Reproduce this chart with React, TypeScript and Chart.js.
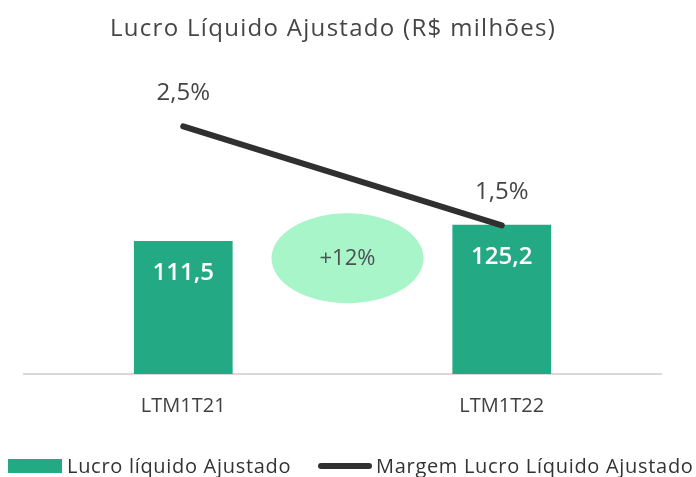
import React, { useEffect, useRef } from "react";
import { Chart, registerables } from "chart.js";

Chart.register(...registerables);

const TITLE = "Lucro Líquido Ajustado (R$ milhões)";
const categories = ["LTM1T21", "LTM1T22"];
const lucroValues = [111.5, 125.2];
const margemValues = [2.5, 1.5];
const seriesNames = ["Lucro líquido Ajustado", "Margem Lucro Líquido Ajustado"];
const growthLabel = "+12%";
const growthLevel = 97; // position of the growth bubble on the value axis

const FONT = "'Open Sans', sans-serif";
const BAR_COLOR = "#23a983";
const LINE_COLOR = "#303030";
const TEXT_COLOR = "#454545";

const fmt = (v: number, d = 1) => v.toFixed(d).replace(".", ",");

const labelsPlugin = {
  id: "customLabels",
  afterDatasetsDraw(chart: any) {
    const ctx = chart.ctx;
    const x = chart.scales.x;
    const y = chart.scales.y;
    ctx.save();
    ctx.textBaseline = "alphabetic";
    ctx.textAlign = "center";

    // title
    ctx.fillStyle = TEXT_COLOR;
    ctx.font = `500 24px ${FONT}`;
    (ctx as any).letterSpacing = "1.3px";
    ctx.fillText(TITLE, 333, 36);
    (ctx as any).letterSpacing = "0px";

    // growth bubble
    const cx = (x.getPixelForValue(0) + x.getPixelForValue(1)) / 2 + 5;
    const cy = y.getPixelForValue(growthLevel);
    ctx.beginPath();
    ctx.ellipse(cx, cy, 76, 45, 0, 0, Math.PI * 2);
    ctx.fillStyle = "#a7f5c9";
    ctx.fill();
    ctx.fillStyle = "#505050";
    ctx.font = `22px ${FONT}`;
    ctx.fillText(growthLabel, cx, cy + 7);

    // bar labels
    const barMeta = chart.getDatasetMeta(0);
    ctx.font = `600 24px ${FONT}`;
    ctx.fillStyle = "#ffffff";
    barMeta.data.forEach((el: any, i: number) => {
      ctx.fillText(fmt(lucroValues[i]), el.x, el.y + 39);
    });
    // line labels
    const lineMeta = chart.getDatasetMeta(1);
    ctx.font = `500 24px ${FONT}`;
    ctx.fillStyle = TEXT_COLOR;
    lineMeta.data.forEach((el: any, i: number) => {
      ctx.fillText(fmt(margemValues[i]) + "%", el.x, el.y - 26);
    });

    // legend
    const ly = 473;
    ctx.font = `20px ${FONT}`;
    ctx.textAlign = "left";
    (ctx as any).letterSpacing = "0.7px";
    ctx.fillStyle = BAR_COLOR;
    ctx.fillRect(8, 459, 54, 14);
    ctx.fillStyle = "#333333";
    ctx.fillText(seriesNames[0], 67, ly);
    ctx.beginPath();
    ctx.lineCap = "round";
    ctx.lineWidth = 6;
    ctx.strokeStyle = LINE_COLOR;
    ctx.moveTo(321, 466);
    ctx.lineTo(369, 466);
    ctx.stroke();
    ctx.fillText(seriesNames[1], 376, ly);
    ctx.restore();
  },
};

export default function App() {
  const ref = useRef<HTMLCanvasElement>(null);
  useEffect(() => {
    document.body.style.margin = "0";
    const chart = new Chart(ref.current!, {
      type: "bar",
      data: {
        labels: categories,
        datasets: [
          {
            type: "bar",
            label: seriesNames[0],
            data: lucroValues,
            backgroundColor: BAR_COLOR,
            categoryPercentage: 0.31,
            barPercentage: 1,
            yAxisID: "y",
            order: 2,
          },
          {
            type: "line",
            label: seriesNames[1],
            data: margemValues,
            borderColor: LINE_COLOR,
            borderWidth: 6,
            borderCapStyle: "round",
            pointRadius: 0,
            yAxisID: "y1",
            order: 1,
          } as any,
        ],
      },
      options: {
        animation: false,
        responsive: false,
        layout: { padding: { left: 24, right: 35, top: 60, bottom: 33 } },
        plugins: {
          legend: { display: false },
          tooltip: { enabled: false },
          title: { display: false },
        },
        scales: {
          x: {
            grid: { display: false, drawTicks: false, tickLength: 0 },
            border: { display: true, color: "#d9d9d9", width: 2 },
            ticks: { color: "#404040", font: { family: FONT, size: 20 }, padding: 20 },
            afterFit: (s: any) => {
              s.height = 70;
            },
          },
          y: { display: false, min: 0, max: 263.2 },
          y1: { display: false, min: 0, max: 3.17, position: "right" },
        },
      },
      plugins: [labelsPlugin],
    });
    return () => chart.destroy();
  }, []);
  return <canvas ref={ref} width={696} height={477} style={{ display: "block" }} />;
}
